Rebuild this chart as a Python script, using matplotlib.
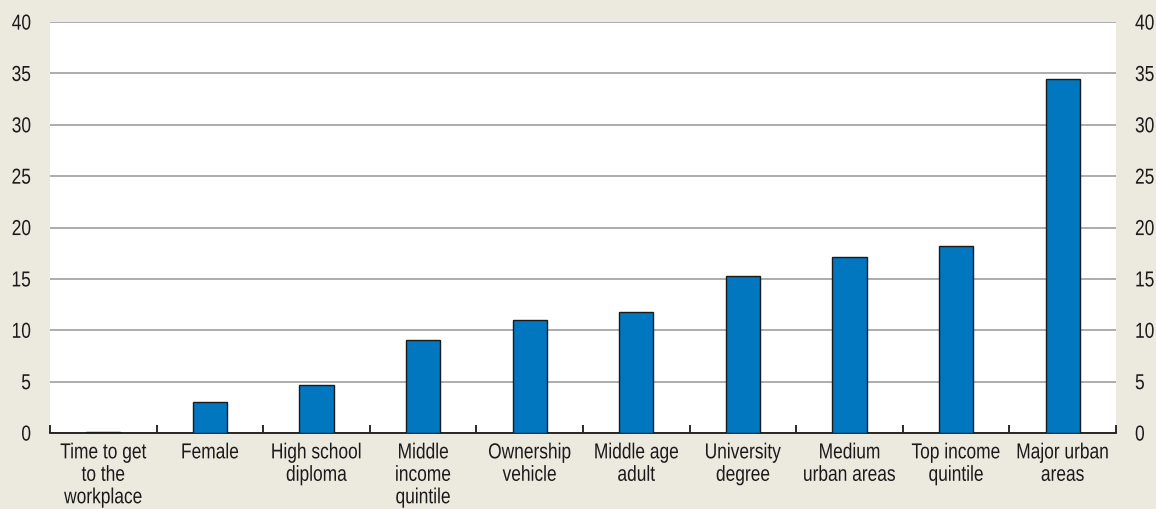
import matplotlib
matplotlib.use("Agg")
import matplotlib.pyplot as plt
import matplotlib.patheffects as pe
from matplotlib.transforms import Affine2D
import numpy as np

categories = ["Time to get\nto the\nworkplace", "Female", "High school\ndiploma",
              "Middle\nincome\nquintile", "Ownership\nvehicle", "Middle age\nadult",
              "University\ndegree", "Medium\nurban areas", "Top income\nquintile",
              "Major urban\nareas"]
values = [0.1, 3.0, 4.65, 9.05, 10.95, 11.8, 15.3, 17.15, 18.2, 34.5]
yticks = [0, 5, 10, 15, 20, 25, 30, 35, 40]


class VStretch(pe.AbstractPathEffect):
    """Stretch glyphs vertically around their mid cap height."""
    def __init__(self, sy=1.25, cy=36.0):
        super().__init__()
        self.sy = sy
        self.cy = cy

    def draw_path(self, renderer, gc, tpath, affine, rgbFace=None):
        t = Affine2D().translate(0, -self.cy).scale(1, self.sy).translate(0, self.cy) + affine
        renderer.draw_path(gc, tpath, t, rgbFace)


plt.rcParams['font.family'] = ['Liberation Sans', 'DejaVu Sans']
bg = "#ECE9DF"
txt = "#1a1a1a"
fig = plt.figure(figsize=(11.56, 5.09), dpi=100, facecolor=bg)
ax = fig.add_axes([50/1156, 1-433/509, (1116-50)/1156, 411/509])
ax.set_facecolor("white")
x = np.arange(len(categories))
ax.bar(x, values, width=0.32, color="#0077BE", edgecolor=txt, linewidth=1.0, zorder=3)
ax.set_xlim(-0.5, len(categories)-0.5)
ax.set_ylim(0, 40)
ax.set_yticks(yticks)
ax.yaxis.grid(True, color="#A6A6A6", linewidth=1.3, zorder=0)
for s in ["left", "right", "top"]:
    ax.spines[s].set_visible(False)
ax.spines["bottom"].set_color(txt)
ax.spines["bottom"].set_linewidth(1.3)
ax.set_xticks(x)
ax.set_xticklabels(categories, fontsize=12.5, linespacing=1.62, color=txt)
ax.tick_params(axis="x", length=0, pad=8.5)
ax.set_xticks(np.arange(-0.5, len(categories), 1), minor=True)
ax.tick_params(axis="x", which="minor", direction="in", length=6, width=1.3, color=txt)
ax.tick_params(axis="y", length=0, labelsize=12.5, pad=13.7, labelcolor=txt)
ax2 = ax.twinx()
ax2.set_ylim(0, 40)
ax2.set_yticks(yticks)
for s in ax2.spines.values():
    s.set_visible(False)
ax2.tick_params(axis="y", length=0, labelsize=12.5, pad=13.7, labelcolor=txt)

stretch = [VStretch(1.25)]
for lab in ax.get_xticklabels() + ax.get_yticklabels() + ax2.get_yticklabels():
    lab.set_path_effects(stretch)

fig.savefig("out.png", dpi=100, facecolor=bg)
